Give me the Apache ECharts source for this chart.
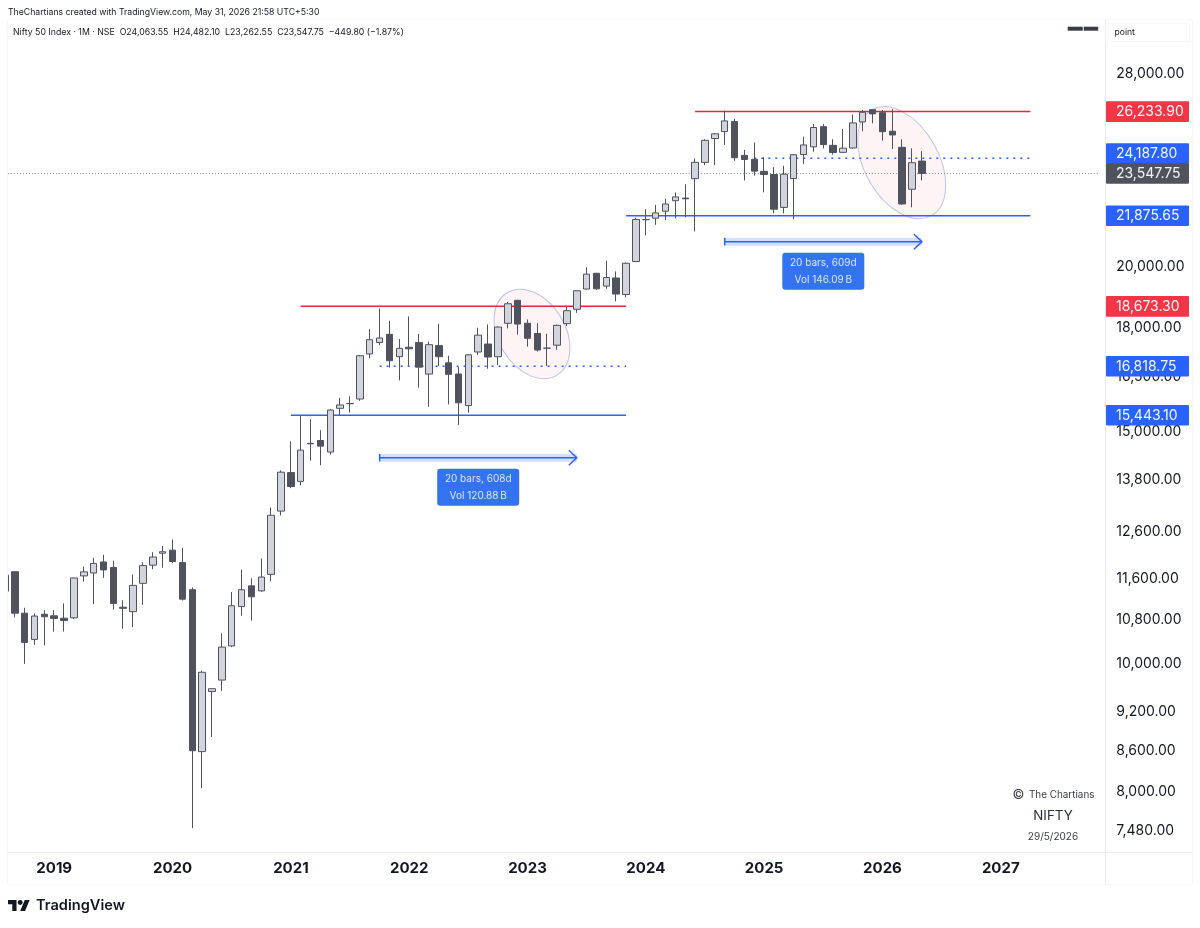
<!DOCTYPE html>
<html><head><meta charset="utf-8">
<style>html,body{margin:0;padding:0;background:#fff}#c{width:1200px;height:928px}</style>
<script src="https://cdn.jsdelivr.net/npm/echarts@6/dist/echarts.min.js"></script>
</head><body><div id="c"></div>
<script>
// Months on the time axis, Aug 2018 .. Nov 2027
const months = [];
for (let y = 2018, m = 8; months.length < 112; m++) {
  if (m > 12) { m = 1; y++; }
  months.push(y + '-' + String(m).padStart(2, '0'));
}
const opens = [11359,11751,10930,10441,10910,
 10881,10835,10842,11665,11725,11953,11839,11045,10960,11515,11886,12137,
 12202,11939,11387,8584,9533,9726,10323,11057,11464,11364,11697,13062,
 13970,13758,14702,14775,14481,15629,15755,15885,17185,17531,17783,17104,
 17387,17529,16593,17437,16920,16594,15703,17244,17485,17102,18130,18871,
 18131,17811,17360,17450,18120,18579,19246,19784,19346,19622,19064,20194,
 21727,21780,22048,22455,22560,23337,24010,25030,25333,25788,24304,24140,
 23637,23508,22194,23341,24340,24670,25551,24734,24433,24620,25764,26325,
 26185,25350,24650,22909,24063.55];
const highs = [11760,11751,11035,10922,10985,
 10987,11118,11630,11856,12041,12103,11981,11181,11694,11945,12158,12294,
 12430,12246,11433,9889,9584,10553,11341,11794,11618,12025,13145,14024,
 14753,15431,15336,15044,15606,15915,15962,17153,17947,18604,18210,17639,
 18350,17794,17559,18115,17132,16794,17172,17992,18096,18022,18816,18887,
 18251,18134,17799,18089,18662,19201,19992,19796,20222,19850,20158,21801,
 22126,22297,22526,22783,23111,24174,24999,25269,26277,25908,24538,24857,
 24226,23807,23869,24359,25116,25669,25669,25000,25448,26104,26310,26325,
 26308,26354,24997,24607,24482.10];
const lows = [11235,10850,10005,10341,10333,
 10583,10585,10817,11549,11108,11625,10999,10637,10670,11090,11802,11832,
 11929,11175,7511,8055,8806,9544,10300,10882,10790,11347,11557,12962,
 13596,13661,14264,14151,14416,15450,15513,15834,17055,17452,16782,16410,
 16836,16203,15671,16825,15735,15183,15511,17154,16748,16855,17970,17774,
 17405,17255,16828,17312,18042,18464,19234,19224,19255,18837,18973,20183,
 21137,21530,21710,21777,21821,21281,23893,23894,24753,24074,23263,23460,
 22786,21964,21965,21744,23935,24462,24599,24337,24404,24587,25350,25704,
 24937,24575,22300,22198,23262.55];
const closes = [11681,10930,10386,10876,10862,
 10830,10792,11623,11748,11922,11788,11118,11023,11474,11877,12056,12168,
 11962,11201,8597,9859,9580,10302,11073,11387,11247,11642,12968,13981,
 13634,14529,14690,14631,15582,15721,15763,17132,17618,17671,16983,17354,
 17340,16794,17465,17103,16585,15780,17158,17759,17094,18012,18758,18105,
 17662,17303,17359,18065,18534,19189,19754,19254,19638,19079,20133,21731,
 21726,21983,22327,22605,22531,24011,24951,25236,25811,24205,24131,23645,
 23508,22125,23519,24334,24751,25517,24768,24427,24611,25722,26203,26130,
 25331,25187,22328,23996,23547.75];

const priceTicks = [28000,20000,18000,16500,15000,13800,12600,11600,10800,10000,9200,8600,8000,7480];
const lastPrice = 23547.75;

const redLevels  = [['2021-02','2023-11',18673.30],['2024-06','2027-04',26233.90]];
const blueLevels = [['2021-01','2023-11',15443.10],['2023-11','2027-04',21875.65]];
const dotLevels  = [['2021-10','2023-11',16818.75],['2024-12','2027-04',24187.80]];

const tagValues = [26233.90,24187.80,23547.75,21875.65,18673.30,16818.75,15443.10];
const arrowStart = ['2021-10','2024-09'];
const arrowEnd   = ['2023-06','2026-05'];
const arrowValue = [14338,20905];
const arrowText  = ['20 bars, 608d\nVol 120.88\u2009B','20 bars, 609d\nVol 146.09\u2009B'];
const ellipseMonth = ['2023-01','2026-03'];
const ellipseValue = [17795,23997];

const FONT = 'Inter, "Noto Sans", sans-serif';
const RED = '#e8243b', BLUE = '#2962ff', GREY = '#50535e';
const tagColor = {26233.90:'#f23645',18673.30:'#f23645',23547.75:'#50535e'};
const tagShift = {24187.80:-4.5};
const ellipseGeom = [{dx:4.5,a:48.2,b:33.4,rot:58.7},{dx:-0.5,a:60.7,b:37.2,rot:60.65}];

const fmt = v => v.toLocaleString('en-US',{minimumFractionDigits:2,maximumFractionDigits:2});
const candle = opens.map((o,i)=>[o,closes[i],lows[i],highs[i]]);
const levelSeries = (list,color,type,width) => list.map(l=>({
  type:'line',z:1,silent:true,showSymbol:false,symbol:'none',animation:false,
  data:[[l[0],l[2]],[l[1],l[2]]],lineStyle:{color,width,type}
}));
const logoXform = {x:8,y:897.6,scaleX:0.61,scaleY:0.61};

const chart = echarts.init(document.getElementById('c'),null,{renderer:'canvas'});
chart.setOption({
  animation:false,
  backgroundColor:'#fff',
  grid:{left:0,top:19,width:112*9.86,height:833.3,containLabel:false},
  xAxis:{type:'category',data:months,boundaryGap:true,
    axisLine:{show:false},axisTick:{show:false},splitLine:{show:false},
    axisLabel:{interval:(i,v)=>v.endsWith('-01'),formatter:v=>v.slice(0,4),
      color:'#131722',fontFamily:FONT,fontWeight:700,fontSize:15,margin:9}},
  yAxis:{type:'log',position:'right',min:7200.5,max:30837,
    axisLine:{show:false},axisTick:{show:false},splitLine:{show:false},minorTick:{show:false},minorSplitLine:{show:false},
    axisLabel:{customValues:priceTicks,formatter:v=>fmt(v),color:'#131722',fontFamily:FONT,fontSize:14,margin:12,align:'left',showMinLabel:true,showMaxLabel:true}},
  graphic:{elements:[
    {type:'rect',z:50,silent:true,shape:{x:0,y:0,width:7,height:928},style:{fill:'#fff'}},
    {type:'rect',z:51,silent:true,shape:{x:7.5,y:19.5,width:1185,height:865},style:{fill:'none',stroke:'#f6f7f9',lineWidth:1}},
    {type:'line',z:51,silent:true,shape:{x1:1105.5,y1:19,x2:1105.5,y2:884},style:{stroke:'#e9ebef',lineWidth:1}},
    {type:'line',z:51,silent:true,shape:{x1:7,y1:852.5,x2:1192,y2:852.5},style:{stroke:'#e9ebef',lineWidth:1}},
    {type:'rect',z:51,silent:true,shape:{x:1108.5,y:23.5,width:81,height:18},style:{fill:'#fff',stroke:'#f6f7f9',lineWidth:1}},
    {type:'text',z:52,silent:true,style:{x:1114.5,y:32,text:'point',fill:'#131722',font:'8.6px '+FONT,verticalAlign:'middle'}},
    {type:'rect',z:52,silent:true,shape:{x:1067.7,y:26.7,width:15,height:4},style:{fill:'#3a3d47'}},
    {type:'rect',z:52,silent:true,shape:{x:1083.7,y:26.7,width:14.5,height:4},style:{fill:'#3a3d47'}},
    {type:'text',z:52,silent:true,style:{x:8,y:12.7,text:'TheChartians created with TradingView.com, May 31, 2026 21:58 UTC+5:30',fill:'#131722',font:'8.7px '+FONT,verticalAlign:'middle'}},
    {type:'text',z:52,silent:true,style:{x:13,y:32.7,text:'Nifty 50 Index · 1M · NSE  O24,063.55  H24,482.10  L23,262.55  C23,547.75  −449.80 (−1.87%)',fill:'#131722',font:'8.75px '+FONT,verticalAlign:'middle'}},
    {type:'text',z:52,silent:true,style:{x:1018.5,y:795,text:'©',fill:'#3a3d47',font:'13px '+FONT,align:'center',verticalAlign:'middle'}},
    {type:'text',z:52,silent:true,style:{x:1029,y:795.5,text:'The Chartians',fill:'#3a3d47',font:'9.9px '+FONT,verticalAlign:'middle'}},
    {type:'text',z:52,silent:true,style:{x:1053,y:816,text:'NIFTY',fill:'#2a2e39',font:'13.3px '+FONT,align:'center',verticalAlign:'middle'}},
    {type:'text',z:52,silent:true,style:{x:1053,y:837,text:'29/5/2026',fill:'#3a3d47',font:'10px '+FONT,align:'center',verticalAlign:'middle'}},
    {type:'polygon',z:52,silent:true,...logoXform,shape:{points:[[14,22],[7,22],[7,11],[0,11],[0,4],[14,4]]},style:{fill:'#131722'}},
    {type:'polygon',z:52,silent:true,...logoXform,shape:{points:[[28,22],[20,22],[27.5,4],[35.5,4]]},style:{fill:'#131722'}},
    {type:'circle',z:52,silent:true,...logoXform,shape:{cx:20,cy:8,r:4},style:{fill:'#131722'}},
    {type:'text',z:52,silent:true,style:{x:36,y:906,text:'TradingView',fill:'#131722',font:'600 14.6px '+FONT,verticalAlign:'middle'}}
  ]},
  series:[
    {type:'custom',z:1,silent:true,clip:true,data:ellipseMonth.map((m,i)=>[m,ellipseValue[i]]),encode:{x:0,y:1},
      renderItem:(p,api)=>{
        const i=p.dataIndex,g=ellipseGeom[i],pt=api.coord([ellipseMonth[i],ellipseValue[i]]);
        const cx=pt[0]+g.dx,cy=pt[1];
        return {type:'ellipse',x:cx,y:cy,rotation:-g.rot*Math.PI/180,shape:{cx:0,cy:0,rx:g.a,ry:g.b},
          style:{fill:'rgba(242,54,69,0.055)',stroke:'rgba(130,140,215,0.5)',lineWidth:1}};
      }},
    ...levelSeries(redLevels,RED,'solid',1.5),
    ...levelSeries(blueLevels,BLUE,'solid',1.5),
    ...levelSeries(dotLevels,BLUE,[2,5],1.5),
    {type:'line',z:1,silent:true,showSymbol:false,symbol:'none',
      data:[[months[0],lastPrice],[months[111],lastPrice]],lineStyle:{color:'#8a8d96',width:1,type:[1,2]}},
    {type:'candlestick',z:3,silent:true,data:candle,barWidth:7,clip:true,
      itemStyle:{color:'#d1d4dc',color0:GREY,borderColor:GREY,borderColor0:GREY,borderWidth:1}},
    {type:'custom',z:4,silent:true,data:arrowValue.map((v,i)=>[arrowStart[i],v]),encode:{x:0,y:1},
      renderItem:(p,api)=>{
        const i=p.dataIndex,a=api.coord([arrowStart[i],arrowValue[i]]),b=api.coord([arrowEnd[i],arrowValue[i]]);
        const x1=a[0],x2=b[0],y=a[1],mid=(x1+x2)/2,top=y+11,st={stroke:BLUE,lineWidth:1.5,fill:'none'};
        return {type:'group',children:[
          {type:'rect',shape:{x:x1,y:y-4,width:x2-x1,height:8},style:{fill:'rgba(41,98,255,0.2)'}},
          {type:'line',shape:{x1,y1:y,x2,y2:y},style:st},
          {type:'line',shape:{x1,y1:y-3.8,x2:x1,y2:y+3.8},style:st},
          {type:'polyline',shape:{points:[[x2-8,y-7.5],[x2,y],[x2-8,y+7.5]]},style:st},
          {type:'rect',shape:{x:mid-41,y:top,width:82,height:37,r:3},style:{fill:'#3373f0'}},
          {type:'text',style:{x:mid,y:top+19,text:arrowText[i],fill:'#dbe6fd',font:'10px '+FONT,align:'center',verticalAlign:'middle',lineHeight:16.5}}
        ]};
      }},
    {type:'custom',z:20,silent:true,clip:false,data:tagValues.map(v=>[months[93],v]),encode:{x:0,y:1},
      renderItem:(p,api)=>{
        const v=tagValues[p.dataIndex],y=api.coord([months[93],v])[1]+(tagShift[v]||0);
        return {type:'group',children:[
          {type:'rect',shape:{x:1106,y:y-10.3,width:83,height:20.6,r:1},style:{fill:tagColor[v]||BLUE}},
          {type:'text',style:{x:1116,y:y+0.5,text:fmt(v),fill:'#f4f6fb',font:'14px '+FONT,verticalAlign:'middle'}}
        ]};
      }}
  ]
});
</script></body></html>
